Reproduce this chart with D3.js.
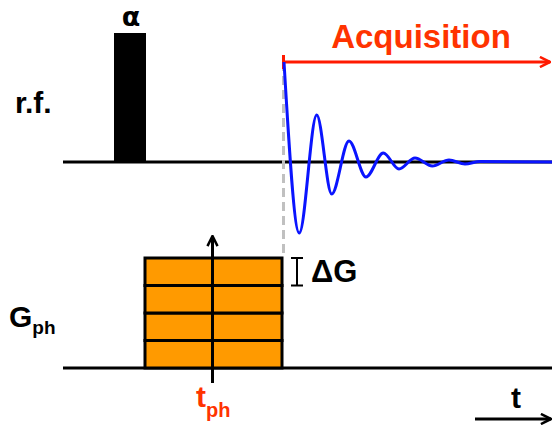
<!DOCTYPE html>
<html>
<head>
<meta charset="utf-8">
<script src="https://cdn.jsdelivr.net/npm/d3@7"></script>
<style>
  body { margin: 0; background: #fff; }
  text { font-family: "Liberation Sans", Arial, sans-serif; font-weight: bold; }
</style>
</head>
<body>
<div id="chart"></div>
<script>
// time axis in arbitrary units, rf amplitude in units of the FID start
var rfPulse = [5.1, 8.3];          // start, end of the alpha pulse
var rfPulseAmp = 1.29;
var gradWindow = [8.2, 21.9];      // phase-encode gradient lobe
var gradSteps = [1, 2, 3, 4];      // stacked phase encode levels
var acqStart = 22.05;
var fidTime = [22.1, 23.63, 25.37, 26.87, 28.6, 30.3, 32.03, 33.6, 35.2, 36.93, 38.6, 40.2, 41.7, 48.9];
var fidAmp  = [1.0, -0.71, 0.47, -0.32, 0.21, -0.15, 0.09, -0.07, 0.04, -0.04, 0.02, -0.02, 0.005, 0];

var width = 552, height = 431;

var svg = d3.select("#chart").append("svg")
    .attr("width", width)
    .attr("height", height);

var x = d3.scaleLinear().domain([0, 48.9]).range([63, 552]);
var yRf = d3.scaleLinear().domain([-1, 1]).range([262, 62]);
var yG = d3.scaleLinear().domain([0, 4]).range([368, 258]);

var defs = svg.append("defs");
function chevron(id, color) {
    defs.append("marker")
        .attr("id", id)
        .attr("viewBox", "0 0 10 10")
        .attr("refX", 9).attr("refY", 5)
        .attr("markerWidth", 4.2).attr("markerHeight", 4.2)
        .attr("markerUnits", "strokeWidth")
        .attr("orient", "auto")
        .append("path")
        .attr("d", "M1,1 L9,5 L1,9")
        .attr("fill", "none")
        .attr("stroke", color)
        .attr("stroke-width", 2);
}
chevron("arrRed", "#ff1a00");
chevron("arrBlack", "#000");

// ---- r.f. channel ----
svg.append("line")
    .attr("x1", x(0)).attr("x2", x(48.9))
    .attr("y1", yRf(0)).attr("y2", yRf(0))
    .attr("stroke", "#000").attr("stroke-width", 3);

svg.append("rect")
    .attr("x", x(rfPulse[0]))
    .attr("y", yRf(rfPulseAmp))
    .attr("width", x(rfPulse[1]) - x(rfPulse[0]))
    .attr("height", yRf(0) - yRf(rfPulseAmp))
    .attr("fill", "#000");

svg.append("text")
    .attr("x", (x(rfPulse[0]) + x(rfPulse[1])) / 2 + 1)
    .attr("y", 26)
    .attr("text-anchor", "middle")
    .style("font-family", "'DejaVu Sans', sans-serif")
    .style("font-size", "27px")
    .text("α");

svg.append("text")
    .attr("x", 15).attr("y", 113)
    .style("font-size", "30px")
    .text("r.f.");

// dashed marker for start of acquisition
svg.append("line")
    .attr("x1", x(acqStart)).attr("x2", x(acqStart))
    .attr("y1", 62).attr("y2", 257)
    .attr("stroke", "#c0c0c0")
    .attr("stroke-width", 3)
    .attr("stroke-dasharray", "9,5");

// acquisition arrow
svg.append("line")
    .attr("x1", x(acqStart)).attr("x2", x(48.7))
    .attr("y1", 62).attr("y2", 62)
    .attr("stroke", "#ff1a00").attr("stroke-width", 3)
    .attr("marker-end", "url(#arrRed)");
svg.append("line")
    .attr("x1", x(acqStart)).attr("x2", x(acqStart))
    .attr("y1", 55).attr("y2", 69)
    .attr("stroke", "#ff1a00").attr("stroke-width", 3);

svg.append("text")
    .attr("x", 421).attr("y", 48)
    .attr("text-anchor", "middle")
    .attr("fill", "#ff3300")
    .style("font-size", "33px")
    .text("Acquisition");

// FID
var fid = fidTime.map(function(t, i) { return { t: t, a: fidAmp[i] }; });
var line = d3.line()
    .x(function(d) { return x(d.t); })
    .y(function(d) { return yRf(d.a); })
    .curve(d3.curveMonotoneX);

svg.append("path")
    .datum(fid)
    .attr("d", line)
    .attr("fill", "none")
    .attr("stroke", "#0a14ff")
    .attr("stroke-width", 3);

// ---- gradient channel ----
svg.append("line")
    .attr("x1", x(0)).attr("x2", x(48.9))
    .attr("y1", yG(0)).attr("y2", yG(0))
    .attr("stroke", "#000").attr("stroke-width", 3);

svg.selectAll(".step")
    .data(gradSteps)
    .enter()
    .append("rect")
    .attr("class", "step")
    .attr("x", x(gradWindow[0]))
    .attr("y", function(d) { return yG(d); })
    .attr("width", x(gradWindow[1]) - x(gradWindow[0]))
    .attr("height", function(d) { return yG(d - 1) - yG(d); })
    .attr("fill", "#ff9a00")
    .attr("stroke", "#000")
    .attr("stroke-width", 3);

var midT = (gradWindow[0] + gradWindow[1]) / 2 - 0.1;
svg.append("line")
    .attr("x1", x(midT)).attr("x2", x(midT))
    .attr("y1", 383).attr("y2", 236)
    .attr("stroke", "#000").attr("stroke-width", 3)
    .attr("marker-end", "url(#arrBlack)");

// delta G bracket
var bx = 297;
svg.append("path")
    .attr("d", "M" + (bx - 6) + "," + yG(4) + "H" + (bx + 6) +
               "M" + bx + "," + yG(4) + "V" + yG(3) +
               "M" + (bx - 6) + "," + yG(3) + "H" + (bx + 6))
    .attr("fill", "none")
    .attr("stroke", "#000").attr("stroke-width", 2);

svg.append("text")
    .attr("x", 311).attr("y", 282)
    .style("font-size", "31px")
    .text("ΔG");

var gLabel = svg.append("text").attr("x", 9).attr("y", 327);
gLabel.append("tspan").style("font-size", "30px").text("G");
gLabel.append("tspan").attr("dy", 7).style("font-size", "19px").text("ph");

var tLabel = svg.append("text").attr("x", 196).attr("y", 407).attr("fill", "#ff3300");
tLabel.append("tspan").style("font-size", "30px").text("t");
tLabel.append("tspan").attr("dy", 10).style("font-size", "20px").text("ph");

// time arrow
svg.append("line")
    .attr("x1", 475).attr("x2", 551)
    .attr("y1", 419).attr("y2", 419)
    .attr("stroke", "#000").attr("stroke-width", 3)
    .attr("marker-end", "url(#arrBlack)");

svg.append("text")
    .attr("x", 516).attr("y", 408)
    .attr("text-anchor", "middle")
    .style("font-size", "30px")
    .text("t");
</script>
</body>
</html>
